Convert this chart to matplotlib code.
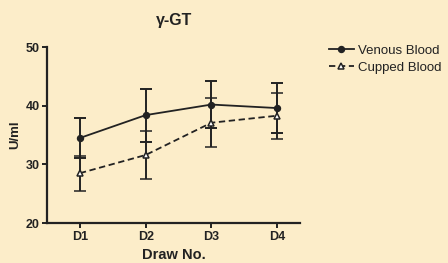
import matplotlib
matplotlib.use('Agg')
import matplotlib.pyplot as plt

plt.rcParams['font.family'] = ['Liberation Sans', 'DejaVu Sans']

draws = ['D1', 'D2', 'D3', 'D4']
venous_mean = [34.5, 38.4, 40.2, 39.6]
venous_sd = [3.4, 4.5, 4.0, 4.2]
cupped_mean = [28.5, 31.6, 37.1, 38.3]
cupped_sd = [3.0, 4.1, 4.2, 3.9]

bg = '#fcedc9'
ink = '#222222'

fig = plt.figure(figsize=(4.48, 2.63), dpi=100, facecolor=bg)
ax = fig.add_axes([0.105, 0.152, 0.565, 0.669], facecolor=bg)

xx = range(1, len(draws) + 1)
ax.errorbar(xx, venous_mean, yerr=venous_sd, color=ink, linestyle='-', lw=1.3,
            marker='o', ms=4.3, mfc=ink, mec=ink, capsize=4, elinewidth=1.4,
            capthick=1.4, label='Venous Blood')
ax.errorbar(xx, cupped_mean, yerr=cupped_sd, color=ink, linestyle=(0, (3.5, 2)), lw=1.3,
            marker='^', ms=5, mfc='white', mec=ink, mew=1.1, capsize=4, elinewidth=1.4,
            capthick=1.4, label='Cupped Blood')

ax.set_xlim(0.5, 4.35)
ax.set_ylim(20, 50)
ax.set_yticks([20, 30, 40, 50])
ax.set_xticks(list(xx))
ax.set_xticklabels(draws)
for side in ['top', 'right']:
    ax.spines[side].set_visible(False)
for side in ['left', 'bottom']:
    ax.spines[side].set_linewidth(1.6)
    ax.spines[side].set_color(ink)
ax.tick_params(axis='both', colors=ink, width=1.4, length=3.5, labelsize=9, pad=2)
for lab in ax.get_xticklabels() + ax.get_yticklabels():
    lab.set_fontweight('bold')

ax.set_title('γ-GT', fontsize=11.5, fontweight='bold', color=ink, pad=16)
ax.set_ylabel('U/ml', fontsize=9.5, fontweight='bold', color=ink, labelpad=3)
ax.set_xlabel('Draw No.', fontsize=10.5, fontweight='bold', color=ink, labelpad=4)

handles, labels = ax.get_legend_handles_labels()
handles = [h[0] for h in handles]
leg = fig.legend(handles, labels, loc='upper left', bbox_to_anchor=(0.722, 0.85),
                 frameon=False, fontsize=9.5, handlelength=1.9, handletextpad=0.3,
                 labelspacing=0.35, borderaxespad=0)
for t in leg.get_texts():
    t.set_color(ink)

fig.savefig('out.png', dpi=100, facecolor=bg)
